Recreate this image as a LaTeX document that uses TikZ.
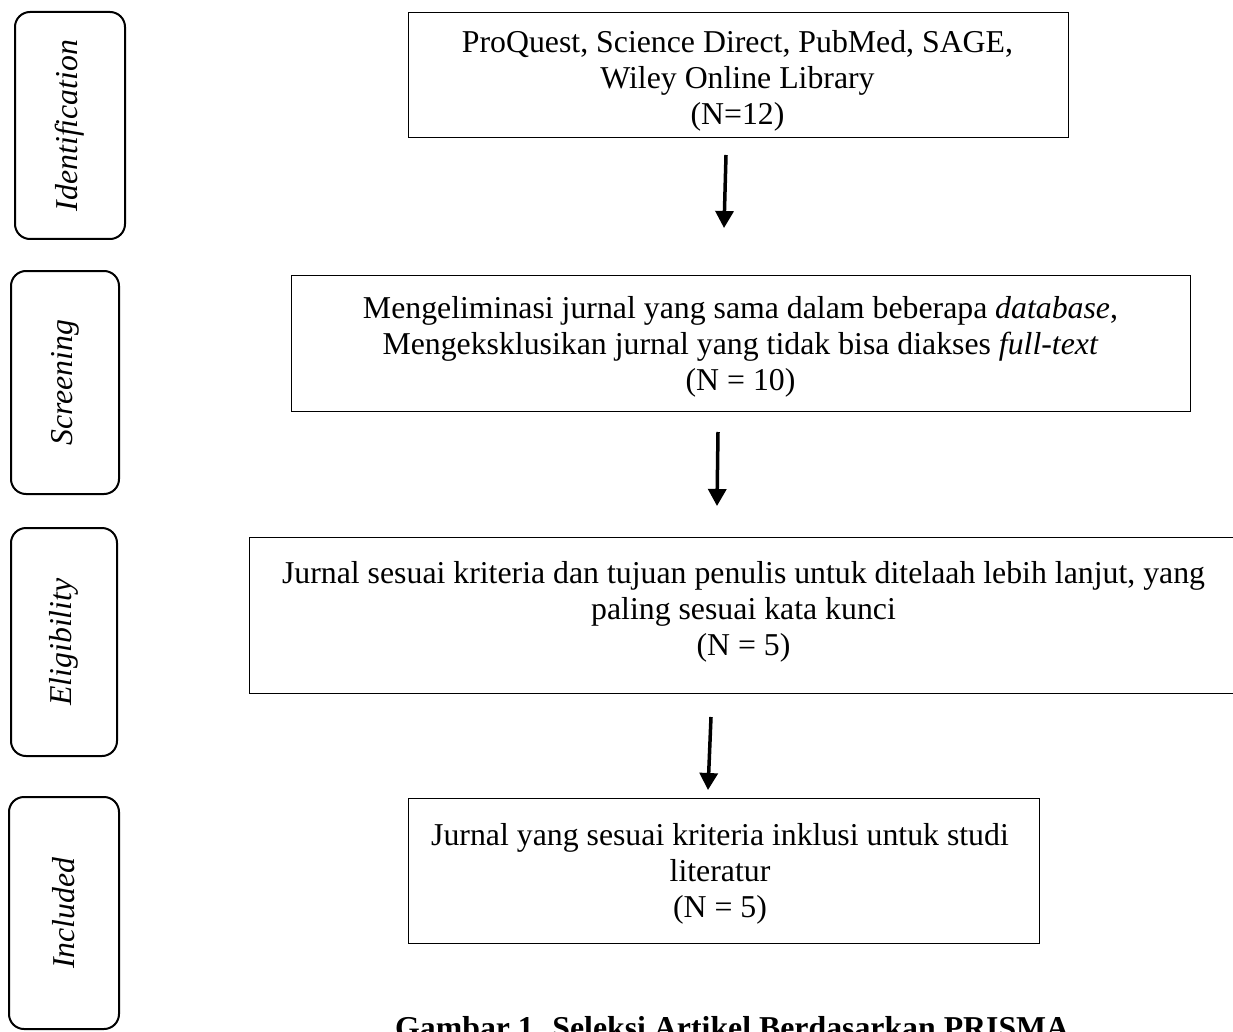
\documentclass[tikz,border=0pt]{standalone}
\usepackage{fontspec}
\setmainfont{Liberation Serif}
\usetikzlibrary{arrows.meta}
\begin{document}
\begin{tikzpicture}[x=1pt,y=-1pt,
  mainbox/.style={draw=black,line width=1.4pt,inner sep=0pt,anchor=north west},
  stagebox/.style={draw=black,line width=2pt,rounded corners=15pt,inner sep=0pt,anchor=north west},
  stagetext/.style={rotate=90,font=\fontsize{31.8}{36}\selectfont\itshape,inner sep=0pt},
  boxtext/.style={align=center,inner sep=0pt,anchor=north,font=\fontsize{31.8}{36}\selectfont},
  flow/.style={line width=3.5pt,-{Triangle[width=18pt,length=17pt]}}]
\useasboundingbox (0,0) rectangle (1233,1032);
\clip (0,0) rectangle (1233,1032);
% stage boxes
\node[stagebox,minimum width=110pt,minimum height=227pt] (sid) at (14,11) {};
\node[stagetext] (lid) at (sid.center) {Identification};
\node[stagebox,minimum width=108pt,minimum height=223pt] (sscr) at (10,270) {};
\node[stagetext] (lscr) at (sscr.center) {Screening};
\node[stagebox,minimum width=106pt,minimum height=228pt] (sel) at (10,527) {};
\node[stagetext] (lel) at (sel.center) {Eligibility};
\node[stagebox,minimum width=110pt,minimum height=232pt] (sinc) at (8,796) {};
\node[stagetext] (linc) at (sinc.center) {Included};
% main boxes
\node[mainbox,minimum width=660pt,minimum height=125pt] (b1) at (408,12) {};
\node[boxtext] (t1) at (737.5,30) {ProQuest, Science Direct, PubMed, SAGE,\\Wiley Online Library\\(N=12)};
\node[mainbox,minimum width=899pt,minimum height=136pt] (b2) at (291,275) {};
\node[boxtext] (t2) at (740.5,296) {Mengeliminasi jurnal yang sama dalam beberapa \textit{database},\\Mengeksklusikan jurnal yang tidak bisa diakses \textit{full-text}\\(N = 10)};
\node[mainbox,minimum width=1000pt,minimum height=156pt] (b3) at (249,537) {};
\node[boxtext] (t3) at (743.5,561) {Jurnal sesuai kriteria dan tujuan penulis untuk ditelaah lebih lanjut, yang\\paling sesuai kata kunci\\(N = 5)};
\node[mainbox,minimum width=631pt,minimum height=145pt] (b4) at (408,798) {};
\node[boxtext] (t4) at (720,823) {Jurnal yang sesuai kriteria inklusi untuk studi\\literatur\\(N = 5)};
% arrows
\coordinate (a1s) at (726,155); \coordinate (a1e) at (724,228);
\coordinate (a2s) at (718,432); \coordinate (a2e) at (717,506);
\coordinate (a3s) at (711,717); \coordinate (a3e) at (708,790);
\draw[flow] (a1s) -- (a1e);
\draw[flow] (a2s) -- (a2e);
\draw[flow] (a3s) -- (a3e);
% caption
\node[anchor=base west,inner sep=0pt,font=\fontsize{31.8}{36}\selectfont\bfseries] (cap) at (395,1038) {Gambar 1. Seleksi Artikel Berdasarkan PRISMA};
\end{tikzpicture}
\end{document}
